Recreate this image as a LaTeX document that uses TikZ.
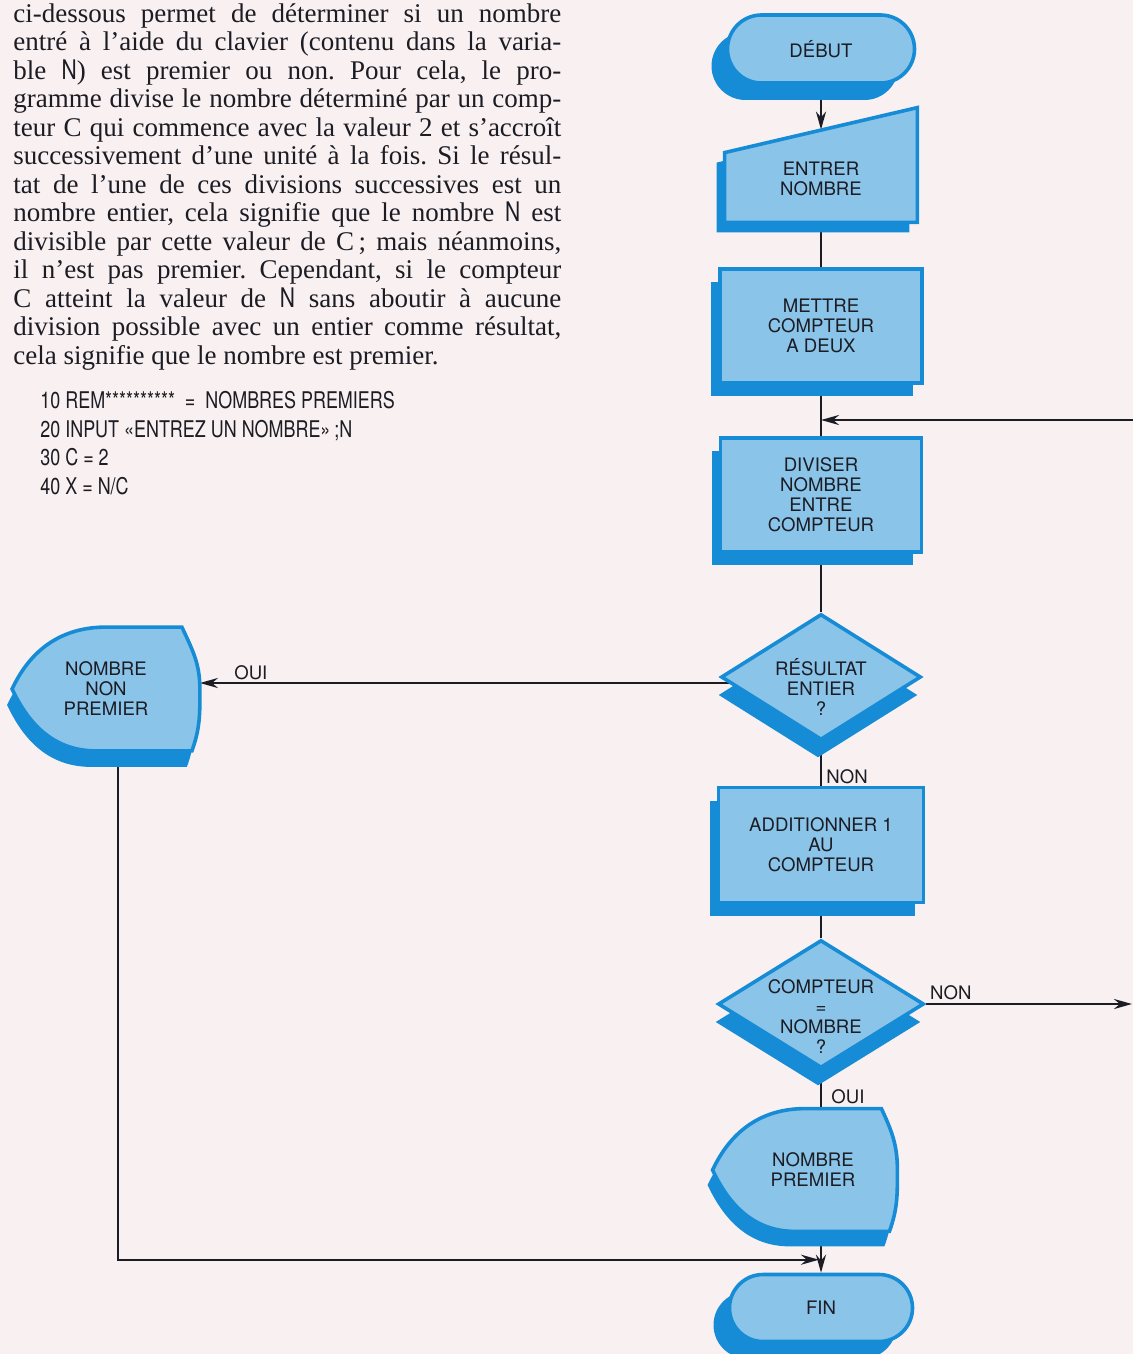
\documentclass[tikz,border=0pt]{standalone}
\usepackage{fontspec}
\setmainfont{Liberation Serif}
\newfontfamily\boitefont{TeX Gyre Heros}
\newfontfamily\codefont[FakeStretch=0.78]{TeX Gyre Heros}
\usepackage{tikz}
\usetikzlibrary{arrows.meta,calc,positioning,shapes.geometric,shapes.misc,shadows}
\definecolor{papier}{RGB}{249,241,241}
\definecolor{encre}{RGB}{28,28,36}
\definecolor{bleuclair}{RGB}{138,196,232}
\definecolor{bleufonce}{RGB}{22,140,214}
\pgfdeclarelayer{lignes}
\pgfdeclarelayer{formes}
\pgfsetlayers{lignes,formes,main}
\frenchspacing

\begin{document}
\begin{tikzpicture}[x=0.5pt,y=-0.5pt,>=Stealth,
  forme/.style={draw=bleufonce,fill=bleuclair,line width=1.8pt},
  txt/.style={text=encre,font=\boitefont\fontsize{9.3}{10}\selectfont,align=center},
  boite/.style={forme,txt,rectangle,inner sep=0pt,
    general shadow={fill=bleufonce,shadow xshift=-4.5pt,shadow yshift=-6.5pt}},
  terminal/.style={forme,txt,rounded rectangle,inner sep=0pt,
    general shadow={fill=bleufonce,shadow xshift=-8pt,shadow yshift=-8.5pt}},
  test/.style={forme,diamond,inner sep=0pt,
    general shadow={fill=bleufonce,shadow xshift=-1.5pt,shadow yshift=-9pt}},
  cadre/.style={txt,rectangle,inner sep=0pt},
  lien/.style={draw=encre,line width=1.2pt},
  fleche/.style={lien,-{Stealth[length=9pt,width=5pt]}},
  etiq/.style={txt,inner sep=0pt},
  texte/.style={text=encre,inner sep=0pt,text width=274pt,align=justify,
    font=\fontsize{13.5}{14.25}\selectfont},
  code/.style={text=encre,inner sep=0pt,align=left,
    font=\codefont\fontsize{11.5}{14.35}\selectfont}]
  \useasboundingbox (0,0) rectangle (1133,1354);

  % texte et programme
  \node[texte,anchor=north west] (intro) at (13,3) {ci-dessous permet de déterminer si un nombre\linebreak
    entré à l’aide du clavier (contenu dans la varia-\linebreak
    ble {\codefont N}) est premier ou non. Pour cela, le pro-\linebreak
    gramme divise le nombre déterminé par un comp-\linebreak
    teur C qui commence avec la valeur 2 et s’accroît\linebreak
    successivement d’une unité à la fois. Si le résul-\linebreak
    tat de l’une de ces divisions successives est un\linebreak
    nombre entier, cela signifie que le nombre {\codefont N} est\linebreak
    divisible par cette valeur de C\,; mais néanmoins,\linebreak
    il n’est pas premier. Cependant, si le compteur\linebreak
    C atteint la valeur de {\codefont N} sans aboutir à aucune\linebreak
    division possible avec un entier comme résultat,\linebreak
    cela signifie que le nombre est premier.};
  \node[code,anchor=north west] (prog) at (40,391) {10 REM********** \ = \ NOMBRES PREMIERS\\
    20 INPUT «ENTREZ UN NOMBRE»\,;N\\
    30 C = 2\\
    40 X = N/C};

  % organigramme
  \node[terminal,minimum width=93.5pt,minimum height=34pt] (debut) at (821,49) {DÉBUT};
  \node[cadre,minimum width=96pt,minimum height=43pt] (entree) at (821,179) {ENTRER\\NOMBRE};
  \node[boite,minimum width=101pt,minimum height=57pt] (mettre) at (821,326) {METTRE\\COMPTEUR\\A DEUX};
  \node[boite,minimum width=100.5pt,minimum height=57pt] (diviser) at (821,495) {DIVISER\\NOMBRE\\ENTRE\\COMPTEUR};
  \node[test,minimum width=100pt,minimum height=63pt,
    label={[etiq,yshift=-5pt]center:{RÉSULTAT\\ENTIER\\?}}] (test1) at (821,677) {};
  \node[boite,minimum width=102.5pt,minimum height=57.5pt] (ajout) at (821,845) {ADDITIONNER 1\\AU\\COMPTEUR};
  \node[test,minimum width=103pt,minimum height=64pt,
    label={[etiq,yshift=-6.5pt]center:{COMPTEUR\\=\\NOMBRE\\?}}] (test2) at (821,1004) {};
  \node[cadre,minimum width=92pt,minimum height=61pt] (premier) at (813,1170) {NOMBRE\\PREMIER};
  \node[cadre,minimum width=93.5pt,minimum height=61.5pt] (nnp) at (106,689) {NOMBRE\\NON\\PREMIER};
  \node[terminal,minimum width=91.5pt,minimum height=33.5pt] (fin) at (821,1308) {FIN};

  \node[etiq,above right=4.5pt and 17pt of nnp.east] (oui1) {OUI};
  \node[etiq,below right=13.5pt and 2.5pt of test1.south] (non1) {NON};
  \node[etiq,below right=9.5pt and 5pt of test2.south] (oui2) {OUI};
  \node[etiq,above right=2pt and 2pt of test2.east] (non2) {NON};

  \begin{pgfonlayer}{formes}
    \path[forme,general shadow={fill=bleufonce,shadow xshift=-4pt,shadow yshift=-5pt}]
      (entree.south west) -- (entree.south east) -- ($(entree.north east)+(0,-28)$)
      -- ($(entree.north west)+(0,17)$) -- cycle;
    \path[forme,general shadow={fill=bleufonce,shadow xshift=-2.5pt,shadow yshift=-8pt}]
      (nnp.west) to[out=65,in=180] (nnp.north) -- ($(nnp.north east)+(-18,0)$)
      to[out=-65,in=90] (nnp.east) to[out=-90,in=70] ($(nnp.south east)+(-8,0)$)
      -- ($(nnp.south)+(-10,0)$) to[out=180,in=-65] (nnp.west) -- cycle;
    \path[forme,general shadow={fill=bleufonce,shadow xshift=-2.5pt,shadow yshift=-7.5pt}]
      ($(premier.west)+(-8,0)$) to[out=65,in=180] ($(premier.north)+(-8,0)$)
      -- ($(premier.north east)+(-24,0)$)
      to[out=-65,in=90] ($(premier.east)+(-8,0)$) to[out=-90,in=70] ($(premier.south east)+(-16,0)$)
      -- ($(premier.south)+(-18,0)$) to[out=180,in=-65] ($(premier.west)+(-8,0)$) -- cycle;
  \end{pgfonlayer}

  \begin{pgfonlayer}{lignes}
    \fill[papier] (0,0) rectangle (1133,1354);
    \coordinate (retour) at (1133,420);
    \coordinate (sortie) at (1132,1005);
    \coordinate (jonction) at ($(fin.north)+(-2,-13)$);
    \coordinate (t1g) at ([yshift=-3pt]test1.west);
    \draw[fleche] (debut.south) -- ($(entree.north)+(0,-6)$);
    \draw[lien] (entree.south) -- (mettre.north);
    \draw[lien] (mettre.south) -- (diviser.north);
    \draw[lien] (diviser.south) -- (test1.north);
    \draw[lien] (test1.south) -- (ajout.north);
    \draw[lien] (ajout.south) -- (test2.north);
    \draw[lien] (test2.south) -- (test2.south |- premier.north);
    \draw[fleche] (test2.south |- premier.south) -- (fin.north);
    \draw[fleche] (retour) -- (retour -| mettre.south);
    \draw[fleche] ([xshift=7pt]t1g) -- (t1g -| nnp.east);
    \draw[fleche] (test2.east) -- (test2.east -| sortie);
    \draw[fleche] ([xshift=6pt]nnp.south) |- (jonction);
  \end{pgfonlayer}
\end{tikzpicture}
\end{document}
